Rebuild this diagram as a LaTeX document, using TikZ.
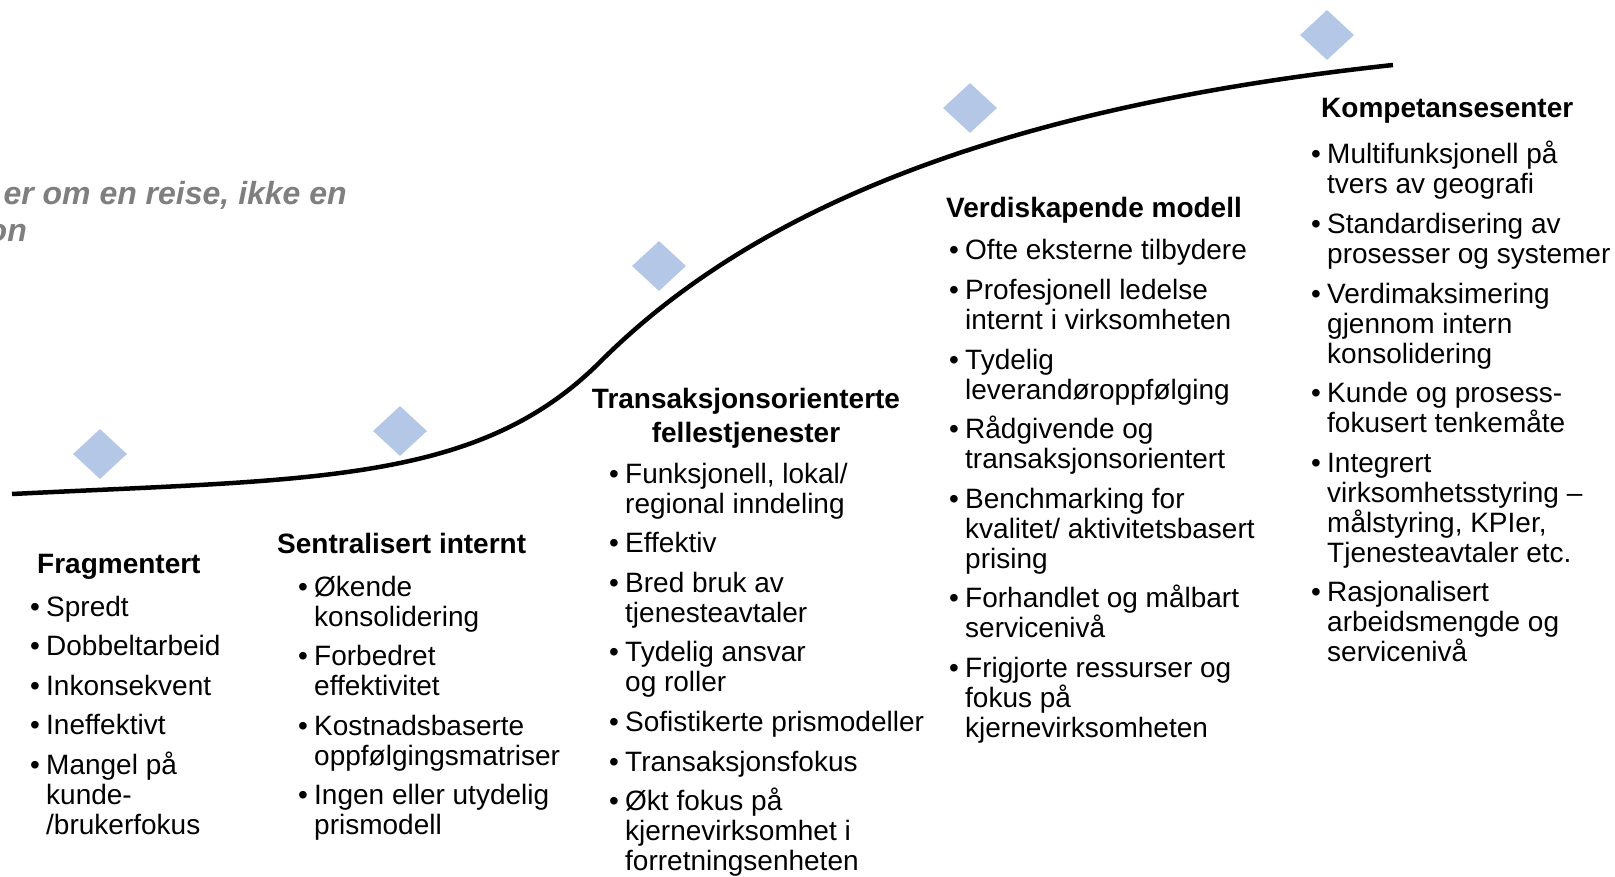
\documentclass[tikz,border=0pt]{standalone}
\usepackage{fontspec}
\setmainfont{Liberation Sans}
\usetikzlibrary{shapes.geometric}
\definecolor{diamc}{HTML}{B4C7E7}
\definecolor{grayt}{HTML}{7F7F7F}
\newcommand\bitem[1]{\par\hangindent=16pt\hangafter=1\noindent\hbox to 16pt{•\hss}#1}
\newcommand\blist[2]{\vtop{\hsize=#1\fontsize{28}{30}\selectfont\parindent=0pt\parskip=9.6pt\lineskiplimit=-20pt #2\par}}
\begin{document}
\begin{tikzpicture}[x=1pt,y=-1pt,
  diam/.style={shape=diamond,fill=diamc,draw=none,inner sep=0pt,minimum width=54pt,minimum height=50pt},
  ttl/.style={anchor=base west,inner sep=0pt,font=\fontsize{28}{34}\selectfont\bfseries},
  lst/.style={anchor=base west,inner sep=0pt},
  gry/.style={anchor=base east,inner sep=0pt,text=grayt,font=\fontsize{32}{38}\selectfont\bfseries\itshape}]
\useasboundingbox[fill=white] (0,0) rectangle (1615,877);

% gray heading (cut off at the left edge)
\node[gry] (g1) at (347,205) {er om en reise, ikke en};
\node[gry] (g2) at (27,242) {on};

% curve
\coordinate (cs) at (12,494);
\coordinate (cm) at (600,362);
\coordinate (ce) at (1393,65);
\draw[line width=4.5pt] (cs) .. controls (312,479) and (478,484) .. (cm)
  .. controls (750,212) and (993,108) .. (ce);

% diamonds
\node[diam] (d1) at (100,454) {};
\node[diam] (d2) at (400,431) {};
\node[diam] (d3) at (659,266) {};
\node[diam] (d4) at (970,108) {};
\node[diam] (d5) at (1327,35) {};

% Fragmentert
\node[ttl] (t1) at (37,573) {Fragmentert};
\node[lst] (l1) at (30,616) {\blist{260pt}{%
\bitem{Spredt}
\bitem{Dobbeltarbeid}
\bitem{Inkonsekvent}
\bitem{Ineffektivt}
\bitem{Mangel på\\kunde-\\/brukerfokus}}};

% Sentralisert internt
\node[ttl] (t2) at (277,553) {Sentralisert internt};
\node[lst] (l2) at (298,596) {\blist{300pt}{%
\bitem{Økende\\konsolidering}
\bitem{Forbedret\\effektivitet}
\bitem{Kostnadsbaserte\\oppfølgingsmatriser}
\bitem{Ingen eller utydelig\\prismodell}}};

% Transaksjonsorienterte fellestjenester
\node[anchor=base,inner sep=0pt] (t3) at (746,408) {\vtop{\hsize=360pt\fontsize{28}{34}\selectfont\bfseries\centering Transaksjonsorienterte\\fellestjenester\par}};
\node[lst] (l3) at (609,483) {\blist{330pt}{%
\bitem{Funksjonell, lokal/\\regional inndeling}
\bitem{Effektiv}
\bitem{Bred bruk av\\tjenesteavtaler}
\bitem{Tydelig ansvar\\og roller}
\bitem{Sofistikerte prismodeller}
\bitem{Transaksjonsfokus}
\bitem{Økt fokus på\\kjernevirksomhet i\\forretningsenheten}}};

% Verdiskapende modell
\node[ttl] (t4) at (946,218) {Verdiskapende modell};
\node[lst] (l4) at (949,260) {\blist{330pt}{%
\bitem{Ofte eksterne tilbydere}
\bitem{Profesjonell ledelse\\internt i virksomheten}
\bitem{Tydelig\\leverandøroppfølging}
\bitem{Rådgivende og\\transaksjonsorientert}
\bitem{Benchmarking for\\kvalitet/ aktivitetsbasert\\prising}
\bitem{Forhandlet og målbart\\servicenivå}
\bitem{Frigjorte ressurser og\\fokus på\\kjernevirksomheten}}};

% Kompetansesenter
\node[ttl] (t5) at (1321,118) {Kompetansesenter};
\node[lst] (l5) at (1311,164) {\blist{300pt}{%
\bitem{Multifunksjonell på\\tvers av geografi}
\bitem{Standardisering av\\prosesser og systemer}
\bitem{Verdimaksimering\\gjennom intern\\konsolidering}
\bitem{Kunde og prosess-\\fokusert tenkemåte}
\bitem{Integrert\\virksomhetsstyring –\\målstyring, KPIer,\\Tjenesteavtaler etc.}
\bitem{Rasjonalisert\\arbeidsmengde og\\servicenivå}}};
\end{tikzpicture}
\end{document}
